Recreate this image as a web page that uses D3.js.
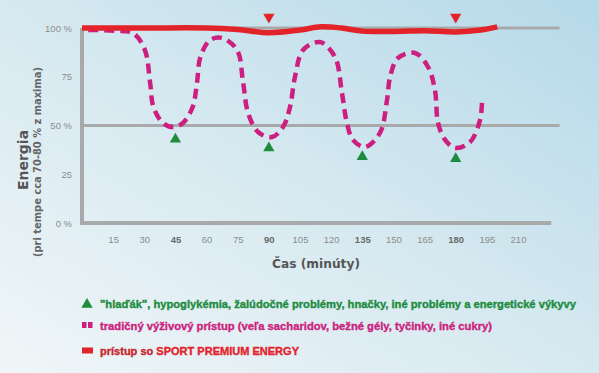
<!DOCTYPE html>
<html>
<head>
<meta charset="utf-8">
<script src="https://cdn.jsdelivr.net/npm/d3@7"></script>
<style>
  body { margin: 0; }
  svg { display: block; font-family: "Liberation Sans", Arial, sans-serif; }
</style>
</head>
<body>
<div class="chart"></div>
<script>
// chart values
var xTicks = [15, 30, 45, 60, 75, 90, 105, 120, 135, 150, 165, 180, 195, 210];
var boldTicks = [45, 90, 135, 180];
var yTicks = [0, 25, 50, 75, 100];
var yTickLabels = ["0 %", "25", "50 %", "75", "100 %"];
var gridValues = [100, 50];

// SPORT PREMIUM ENERGY (minutes, % energy)
var premiumMin = [0, 30, 60, 75, 90, 105, 115, 125, 135, 150, 165, 180, 192, 200];
var premiumVal = [100, 100, 100, 99.2, 97.6, 99, 100.6, 100, 98.4, 98.2, 98.6, 98, 99, 100.6];

// traditional approach
var tradMin = [3, 16, 24.6, 30.3, 32.8, 34.4, 39, 43.8, 48.6, 53.3, 55.4, 57, 61.7, 67.4, 74.7, 77.6, 80, 84.8, 91.5,
  96.8, 100.2, 102.6, 106.5, 114.6, 121.9, 125.2, 127.6, 130.5, 136.3, 143.5, 146.9, 148.4, 152.2, 160.4,
  166.7, 170, 171.5, 174.9, 179.7, 186.9, 191.7, 192.7];
var tradVal = [99, 98.6, 97.4, 88.7, 72, 59.5, 51.3, 49.2, 51.3, 59.5, 72, 85, 93.8, 94.9, 88.7, 72, 56.4, 46.7, 44.1,
  49.2, 59.5, 75, 88.7, 92.8, 85, 66.7, 51.3, 42.6, 39, 46.2, 63, 75, 84.6, 87.2,
  80, 68.2, 51.3, 42.6, 38.5, 41.5, 52.8, 63];

// problem markers
var problemMin = [45, 90, 135, 180];
var problemVal = [43, 38.5, 34, 33];
var topMarkMin = [90, 180];

var legendText = [
  "\"hlaďák\", hypoglykémia, žalúdočné problémy, hnačky, iné problémy a energetické výkyvy",
  "tradičný výživový prístup (veľa sacharidov, bežné gély, tyčinky, iné cukry)",
  "prístup so "
];

var svgWidth = 599, svgHeight = 373;

var svg = d3.select(".chart").append("svg")
  .attr("width", svgWidth)
  .attr("height", svgHeight);

// background
var defs = svg.append("defs");
var grad = defs.append("linearGradient")
  .attr("id", "bg")
  .attr("x1", "0%").attr("y1", "100%")
  .attr("x2", "100%").attr("y2", "0%");
grad.append("stop").attr("offset", "0%").attr("stop-color", "#f0f6f8");
grad.append("stop").attr("offset", "50%").attr("stop-color", "#d6e9f0");
grad.append("stop").attr("offset", "100%").attr("stop-color", "#b5d9e9");
svg.append("rect").attr("width", svgWidth).attr("height", svgHeight).attr("fill", "url(#bg)");

var x = d3.scaleLinear().domain([0, 210]).range([82, 518]);
var y = d3.scaleLinear().domain([0, 100]).range([223, 28]);

var gray = "#a8a9ab";

// gridlines
svg.selectAll(".grid")
  .data(gridValues)
  .enter()
  .append("line")
  .attr("x1", x(0)).attr("x2", x(230))
  .attr("y1", d => y(d)).attr("y2", d => y(d))
  .attr("stroke", gray)
  .attr("stroke-width", 3);

// axes lines
svg.append("line")
  .attr("x1", x(0) - 2).attr("x2", x(226))
  .attr("y1", y(0)).attr("y2", y(0))
  .attr("stroke", gray).attr("stroke-width", 4);
svg.append("line")
  .attr("x1", x(0)).attr("x2", x(0))
  .attr("y1", y(100)).attr("y2", y(0) + 2)
  .attr("stroke", gray).attr("stroke-width", 4);

// x axis labels
var xAxis = d3.axisBottom(x).tickValues(xTicks).tickSize(0).tickPadding(0);
var gx = svg.append("g")
  .attr("transform", "translate(0," + 236 + ")")
  .call(xAxis);
gx.select(".domain").remove();
gx.selectAll("text")
  .attr("font-family", "Liberation Sans, Arial, sans-serif")
  .attr("font-size", 9.5)
  .attr("fill", d => boldTicks.indexOf(d) >= 0 ? "#6a6a6a" : "#8c8c8c")
  .attr("font-weight", d => boldTicks.indexOf(d) >= 0 ? "bold" : "normal");

// y axis labels
var yAxis = d3.axisLeft(y).tickValues(yTicks).tickSize(0).tickPadding(0)
  .tickFormat((d, i) => yTickLabels[i]);
var gy = svg.append("g")
  .attr("transform", "translate(72,0)")
  .call(yAxis);
gy.select(".domain").remove();
gy.selectAll("text")
  .attr("font-family", "Liberation Sans, Arial, sans-serif")
  .attr("font-size", 9.5)
  .attr("fill", "#8c8c8c");

// axis titles
svg.append("text")
  .attr("transform", "translate(28,160) rotate(-90)")
  .attr("text-anchor", "middle")
  .attr("font-family", "DejaVu Sans, sans-serif")
  .attr("font-size", 14)
  .attr("font-weight", "bold")
  .attr("fill", "#555")
  .text("Energia");
svg.append("text")
  .attr("transform", "translate(41,162) rotate(-90)")
  .attr("text-anchor", "middle")
  .attr("font-family", "DejaVu Sans, sans-serif")
  .attr("font-size", 10)
  .attr("font-weight", "bold")
  .attr("fill", "#666")
  .attr("textLength", 190).attr("lengthAdjust", "spacingAndGlyphs")
  .text("(pri tempe cca 70-80 % z maxima)");
svg.append("text")
  .attr("x", 316).attr("y", 268)
  .attr("text-anchor", "middle")
  .attr("font-family", "DejaVu Sans, sans-serif")
  .attr("font-size", 13)
  .attr("font-weight", "bold")
  .attr("fill", "#555")
  .attr("textLength", 88).attr("lengthAdjust", "spacingAndGlyphs")
  .text("Čas (minúty)");

// traditional dashed curve
var tradData = tradMin.map((m, i) => ({ m: m, v: tradVal[i] }));
var premData = premiumMin.map((m, i) => ({ m: m, v: premiumVal[i] }));

var line = d3.line()
  .x(d => x(d.m))
  .y(d => y(d.v))
  .curve(d3.curveCatmullRom.alpha(0.5));

svg.append("path")
  .datum(tradData)
  .attr("d", line)
  .attr("fill", "none")
  .attr("stroke", "#cc1f7f")
  .attr("stroke-width", 4.5)
  .attr("stroke-dasharray", "10,6");

svg.append("path")
  .datum(premData)
  .attr("d", line)
  .attr("fill", "none")
  .attr("stroke", "#e3232a")
  .attr("stroke-width", 5.5);

// markers
var tri = d3.symbol().type(d3.symbolTriangle).size(55);
svg.selectAll(".prob")
  .data(problemMin)
  .enter()
  .append("path")
  .attr("d", tri)
  .attr("transform", (d, i) => "translate(" + x(d) + "," + y(problemVal[i]) + ")")
  .attr("fill", "#1d8c3f");

svg.selectAll(".top")
  .data(topMarkMin)
  .enter()
  .append("path")
  .attr("d", tri)
  .attr("transform", d => "translate(" + x(d) + ",17) rotate(180)")
  .attr("fill", "#e3232a");

// legend
var lg = svg.append("g")
  .attr("font-family", "Liberation Sans, Arial, sans-serif")
  .attr("font-weight", "bold")
  .attr("font-size", 10.5)
  .attr("stroke-width", 0.35);
lg.append("path")
  .attr("d", tri)
  .attr("transform", "translate(87,304.5)")
  .attr("fill", "#1d8c3f");
lg.append("rect").attr("x", 82).attr("y", 322).attr("width", 4.5).attr("height", 6).attr("fill", "#cc1f7f");
lg.append("rect").attr("x", 88).attr("y", 322).attr("width", 4.5).attr("height", 6).attr("fill", "#cc1f7f");
lg.append("rect").attr("x", 82).attr("y", 347.5).attr("width", 11).attr("height", 6).attr("fill", "#e3232a");

lg.append("text")
  .attr("x", 100).attr("y", 308)
  .attr("fill", "#1d8c3f").attr("stroke", "#1d8c3f")
  .attr("textLength", 476).attr("lengthAdjust", "spacingAndGlyphs")
  .text(legendText[0]);
lg.append("text")
  .attr("x", 100).attr("y", 329.5)
  .attr("fill", "#cc1f7f").attr("stroke", "#cc1f7f")
  .attr("textLength", 392).attr("lengthAdjust", "spacingAndGlyphs")
  .text(legendText[1]);
var t3 = lg.append("text")
  .attr("x", 100).attr("y", 354.5)
  .attr("textLength", 199).attr("lengthAdjust", "spacingAndGlyphs");
t3.append("tspan").attr("fill", "#c8262c").attr("stroke", "#c8262c").text(legendText[2]);
t3.append("tspan").attr("fill", "#e3232a").attr("stroke", "#e3232a").text("SPORT PREMIUM ENERGY");
</script>
</body>
</html>
